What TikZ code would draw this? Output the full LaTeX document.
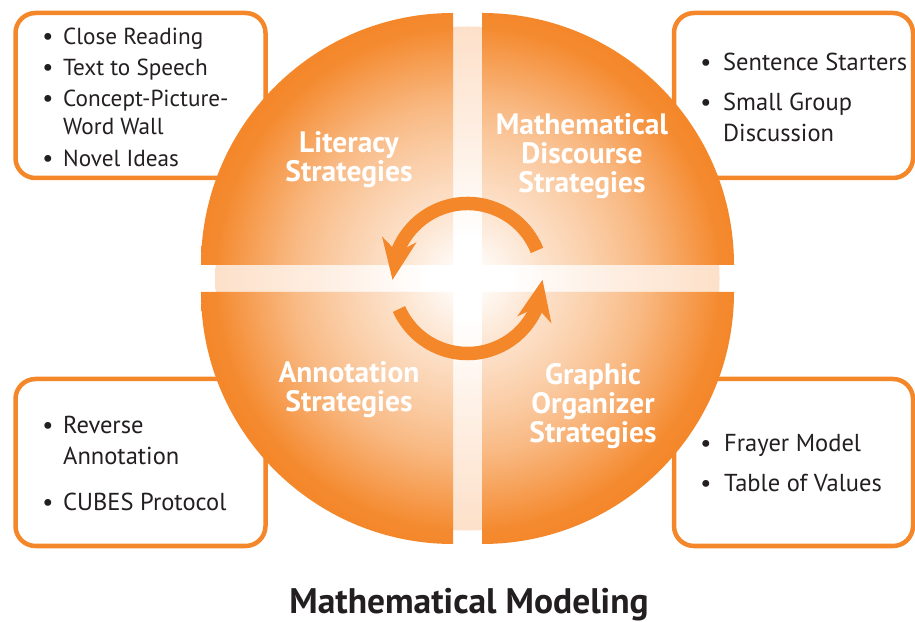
\documentclass[tikz,border=0pt]{standalone}
\usepackage{fontspec}
\setmainfont{PT Sans}
\usepackage{xcolor}
\usepackage{tikz}
\usetikzlibrary{arrows.meta,bending}
\definecolor{strategyorange}{HTML}{F4872A}
\definecolor{inktext}{HTML}{231F20}
\definecolor{bandpeach}{HTML}{FDE0C9}
\pgfdeclareradialshading{quadfade}{\pgfpoint{0bp}{0bp}}{color(0bp)=(white); color(2bp)=(strategyorange!5); color(7bp)=(strategyorange!25); color(12bp)=(strategyorange!42); color(16bp)=(strategyorange!58); color(20bp)=(strategyorange!80); color(23bp)=(strategyorange!97); color(24.5bp)=(strategyorange); color(50bp)=(strategyorange)}
\pgfdeclareradialshading{bandfade}{\pgfpoint{0bp}{0bp}}{color(0bp)=(white); color(4bp)=(white); color(12.5bp)=(white!55!bandpeach); color(25bp)=(bandpeach); color(50bp)=(bandpeach)}

\begin{document}
\begin{tikzpicture}[x=1pt,y=1pt]
  \tikzstyle{listbox} = [draw=strategyorange,line width=4.5pt,fill=white,rounded corners=20pt,minimum width=250pt,minimum height=165pt,inner sep=0pt]
  \tikzstyle{bulletmark} = [anchor=base,inner sep=0pt,text=inktext,font=\fontsize{24.5}{28}\selectfont]
  \tikzstyle{itemtext} = [anchor=base west,inner sep=0pt,text=inktext,font=\fontsize{24.5}{28}\selectfont]
  \tikzstyle{smallitem} = [itemtext,font=\fontsize{23.2}{28}\selectfont]
  \tikzstyle{quadtitle} = [anchor=base,align=center,inner sep=0pt,text=white,font=\bfseries\fontsize{29.5}{29}\selectfont]
  \tikzstyle{cyclearrow} = [draw=strategyorange,line width=13.5pt,-{Stealth[length=41pt,width=35pt,inset=13pt,line width=0pt]}]
  \useasboundingbox (0,0) rectangle (915,621);
  \coordinate (hub) at (467.5,342.5);
  %
  % Boxes behind the circle.
  \node[listbox] (litbox) at (140.5,525.5) {};
  \node[listbox,minimum width=239pt] (discbox) at (793.5,525.5) {};
  \node[listbox,minimum height=167pt] (annbox) at (140.5,158.5) {};
  \node[listbox,minimum width=239pt,minimum height=167pt] (orgbox) at (793.5,158.5) {};
  %
  % Light cross between the quarters.
  \shade[shading=bandfade] (hub) circle (252pt);
  % Four quarters.
  \begin{scope}
    \clip (453,356) -- (201,356) arc[start angle=180,end angle=90,radius=252pt] -- cycle
          (482,356) -- (482,608) arc[start angle=90,end angle=0,radius=252pt] -- cycle
          (453,329) -- (201,329) arc[start angle=180,end angle=270,radius=252pt] -- cycle
          (482,329) -- (734,329) arc[start angle=0,end angle=-90,radius=252pt] -- cycle;
    \shade[shading=quadfade] (hub) circle (273pt);
  \end{scope}
  %
  % Cycle arrows.
  \draw[cyclearrow] (hub) ++(22:75pt) arc[start angle=22,end angle=181,radius=75pt];
  \draw[cyclearrow] (hub) ++(204:75pt) arc[start angle=204,end angle=359,radius=75pt];
  %
  % Quarter titles.
  \node[quadtitle] (littitle) at (349,439) {Literacy\\Strategies};
  \node[quadtitle] (disctitle) at (582,428) {Mathematical\\Discourse\\Strategies};
  \node[quadtitle] (anntitle) at (349,209) {Annotation\\Strategies};
  \node[quadtitle] (orgtitle) at (593,178) {Graphic\\Organizer\\Strategies};
  %
  % First box.
  \node[bulletmark] (lb1) at (48,576) {\textbullet};
  \node[smallitem] (li1) at (63,576) {Close Reading};
  \node[bulletmark] (lb2) at (48,545) {\textbullet};
  \node[smallitem] (li2) at (63,545) {Text to Speech};
  \node[bulletmark] (lb3) at (48,514) {\textbullet};
  \node[smallitem] (li3) at (63,514) {Concept-Picture-};
  \node[smallitem] (li3b) at (63,486) {Word Wall};
  \node[bulletmark] (lb4) at (48,454) {\textbullet};
  \node[smallitem] (li4) at (63,454) {Novel Ideas};
  % Second box.
  \node[bulletmark] (db1) at (706,550) {\textbullet};
  \node[itemtext] (di1) at (723,550) {Sentence Starters};
  \node[bulletmark] (db2) at (706,510) {\textbullet};
  \node[itemtext] (di2) at (723,510) {Small Group};
  \node[itemtext] (di2b) at (723,479) {Discussion};
  % Third box.
  \node[bulletmark] (ab1) at (48,187) {\textbullet};
  \node[itemtext] (ai1) at (63,187) {Reverse};
  \node[itemtext] (ai1b) at (63,156) {Annotation};
  \node[bulletmark] (ab2) at (48,110) {\textbullet};
  \node[itemtext] (ai2) at (63,110) {CUBES Protocol};
  % Fourth box.
  \node[bulletmark] (ob1) at (706,169) {\textbullet};
  \node[itemtext] (oi1) at (724,169) {Frayer Model};
  \node[bulletmark] (ob2) at (706,129) {\textbullet};
  \node[itemtext] (oi2) at (724,129) {Table of Values};
  %
  \node[anchor=base,inner sep=0pt,text=inktext,font=\bfseries\fontsize{35.5}{40}\selectfont] (modeling) at (469,8) {Mathematical Modeling};
\end{tikzpicture}
\end{document}
